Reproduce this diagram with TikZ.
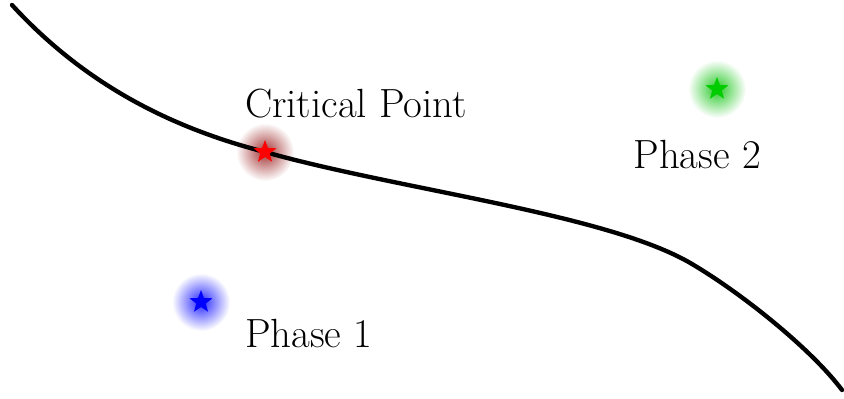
\documentclass[tikz,border=0pt]{standalone}
\usepackage{amsmath,amssymb}
\usepackage{tikz}
\usetikzlibrary{positioning,shapes.geometric}
\usepackage{xcolor}

\begin{document}
\begin{tikzpicture}[
    glow/.style={circle,minimum size=1.45cm,inner sep=0pt,draw=none},
    phasestar/.style={star,star points=5,star point ratio=2.4,minimum size=0.6cm,inner sep=0pt,draw=none},
    lbl/.style={font=\fontsize{29}{34}\selectfont,inner sep=0pt}
  ]
      \useasboundingbox (0,0) rectangle (21.1,9.95);
      % glows
      \node[glow,shading=radial,inner color=red!55!black!80,outer color=white] (cglow) at (6.625,6.15) {};
      \node[glow,shading=radial,inner color=blue!85,outer color=white] (aglow) at (5.025,2.4) {};
      \node[glow,shading=radial,inner color=green!75!black!85,outer color=white] (bglow) at (17.925,7.725) {};
      % coexistence curve
      \draw[black,line width=3.1pt,line cap=round] (0.3,9.825) .. controls (2.25,7.7) and (4.5,6.7) .. (6.625,6.15)
        .. controls (10,5.2) and (15.2,4.6) .. (17.3,3.35)
        .. controls (18.6,2.58) and (20.3,1.2) .. (21.05,0.2);
      % stars
      \node[phasestar,fill=red] (crit) at (cglow) {};
      \node[phasestar,fill=blue] (one) at (aglow) {};
      \node[phasestar,fill=green!80!black] (two) at (bglow) {};
      \node[lbl] (critlbl) at (8.9,7.35) {Critical Point};
      \node[lbl] (twolbl) at (17.43,6.08) {Phase 2};
      \node[lbl] (onelbl) at (7.72,1.6) {Phase 1};
    \end{tikzpicture}
\end{document}
